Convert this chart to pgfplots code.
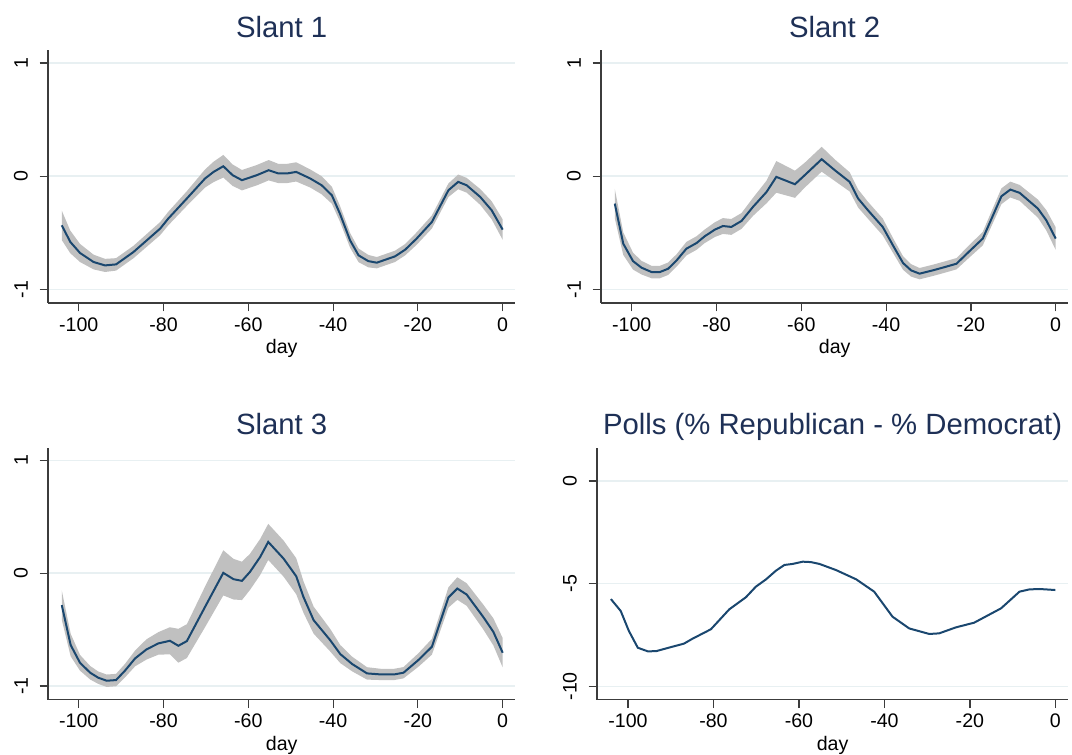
\documentclass[border=0pt]{standalone}
\usepackage{fontspec}
\setmainfont{Liberation Sans}
\usepackage{pgfplots}
\usepackage{pgfplotstable}
\pgfplotsset{compat=1.18}
\usepgfplotslibrary{fillbetween}
\definecolor{stnavy}{RGB}{26,71,111}
\definecolor{bandc}{RGB}{192,192,192}
\definecolor{gridc}{RGB}{232,240,242}
\definecolor{titlec}{RGB}{30,48,86}
\definecolor{axc}{RGB}{60,60,60}

\pgfplotstableread{
d m lo hi
-104 -0.434 -0.564 -0.304
-102 -0.58 -0.68 -0.48
-99.7 -0.678 -0.758 -0.598
-96.5 -0.758 -0.823 -0.693
-93.8 -0.788 -0.846 -0.730
-91.2 -0.779 -0.834 -0.724
-87.1 -0.67 -0.725 -0.615
-80.8 -0.463 -0.521 -0.405
-78.9 -0.375 -0.435 -0.315
-74.5 -0.197 -0.262 -0.132
-70.2 -0.02 -0.10 0.06
-68.2 0.038 -0.052 0.128
-65.9 0.088 -0.012 0.188
-63.7 0.009 -0.086 0.104
-61.5 -0.035 -0.125 0.055
-58 0.009 -0.081 0.099
-55.2 0.053 -0.037 0.143
-52.9 0.024 -0.061 0.109
-50.9 0.024 -0.061 0.109
-48.7 0.038 -0.047 0.123
-45.4 -0.02 -0.10 0.06
-42.7 -0.08 -0.16 0.0
-40.3 -0.168 -0.243 -0.093
-38.4 -0.33 -0.40 -0.26
-36 -0.566 -0.631 -0.501
-34 -0.699 -0.759 -0.639
-31.7 -0.75 -0.805 -0.695
-29.7 -0.764 -0.814 -0.714
-25.4 -0.708 -0.758 -0.658
-23 -0.649 -0.699 -0.599
-20.3 -0.551 -0.606 -0.496
-16.7 -0.404 -0.462 -0.346
-12.8 -0.124 -0.184 -0.064
-10.5 -0.05 -0.115 0.015
-8.5 -0.08 -0.145 -0.015
-5.3 -0.183 -0.253 -0.113
-2.6 -0.301 -0.381 -0.221
0 -0.472 -0.562 -0.382
}\tA

\pgfplotstableread{
d m lo hi
-104 -0.242 -0.372 -0.112
-102 -0.596 -0.696 -0.496
-99.7 -0.75 -0.825 -0.675
-97.7 -0.808 -0.868 -0.748
-95.3 -0.847 -0.902 -0.792
-93.4 -0.847 -0.902 -0.792
-91.4 -0.817 -0.872 -0.762
-89.4 -0.743 -0.798 -0.688
-87.1 -0.64 -0.70 -0.58
-84.7 -0.59 -0.65 -0.53
-82.8 -0.531 -0.591 -0.471
-80.4 -0.472 -0.537 -0.407
-78.5 -0.44 -0.51 -0.37
-76.5 -0.448 -0.518 -0.378
-74.1 -0.395 -0.465 -0.325
-71.4 -0.271 -0.351 -0.191
-68.2 -0.139 -0.239 -0.039
-65.9 -0.006 -0.146 0.134
-61.5 -0.071 -0.191 0.049
-59.2 0.009 -0.101 0.119
-55.2 0.15 0.04 0.26
-52.1 0.053 -0.042 0.148
-48.6 -0.05 -0.135 0.035
-46.6 -0.197 -0.277 -0.117
-44.3 -0.30 -0.375 -0.225
-40.8 -0.448 -0.523 -0.373
-38.4 -0.61 -0.675 -0.545
-36 -0.767 -0.827 -0.707
-34.1 -0.832 -0.887 -0.777
-32.1 -0.861 -0.911 -0.811
-29 -0.832 -0.882 -0.782
-26.2 -0.803 -0.853 -0.753
-23.4 -0.773 -0.823 -0.723
-20.3 -0.661 -0.716 -0.606
-17.2 -0.551 -0.611 -0.491
-12.8 -0.177 -0.247 -0.107
-10.7 -0.118 -0.188 -0.048
-8.5 -0.147 -0.217 -0.077
-6.5 -0.212 -0.287 -0.137
-4.2 -0.286 -0.366 -0.206
-2.2 -0.39 -0.48 -0.30
0 -0.551 -0.651 -0.451
}\tB

\pgfplotstableread{
d m lo hi
-104 -0.283 -0.413 -0.153
-101.9 -0.637 -0.737 -0.537
-99.7 -0.794 -0.864 -0.724
-97.3 -0.882 -0.942 -0.822
-95.4 -0.926 -0.981 -0.871
-93.4 -0.953 -1.008 -0.898
-91.2 -0.947 -1.002 -0.892
-89.1 -0.864 -0.924 -0.804
-86.7 -0.755 -0.825 -0.685
-84 -0.675 -0.765 -0.585
-81.2 -0.622 -0.722 -0.522
-78.5 -0.599 -0.719 -0.479
-76.5 -0.643 -0.793 -0.493
-74.5 -0.602 -0.752 -0.452
-70.2 -0.298 -0.478 -0.118
-65.9 0.003 -0.197 0.203
-63.5 -0.053 -0.233 0.127
-61.5 -0.068 -0.238 0.102
-59.6 0.012 -0.148 0.172
-57.2 0.144 -0.016 0.304
-55.3 0.277 0.117 0.437
-51.7 0.13 -0.03 0.29
-48.7 -0.027 -0.187 0.133
-47 -0.21 -0.35 -0.07
-44.6 -0.416 -0.536 -0.296
-40.7 -0.593 -0.693 -0.493
-38.3 -0.717 -0.797 -0.637
-35.5 -0.805 -0.87 -0.74
-32 -0.888 -0.943 -0.833
-28.8 -0.897 -0.947 -0.847
-25.6 -0.897 -0.947 -0.847
-23.4 -0.882 -0.932 -0.832
-19.9 -0.77 -0.83 -0.71
-16.7 -0.652 -0.722 -0.582
-12.8 -0.215 -0.305 -0.125
-10.7 -0.136 -0.236 -0.036
-8.5 -0.189 -0.289 -0.089
-4.6 -0.387 -0.497 -0.277
-2.2 -0.52 -0.64 -0.40
0 -0.705 -0.835 -0.575
}\tC

\pgfplotstableread{
d m
-104 -5.75
-101.7 -6.33
-99.8 -7.3
-97.7 -8.12
-95.3 -8.30
-93.3 -8.28
-90.5 -8.12
-86.9 -7.92
-84.9 -7.68
-80.6 -7.22
-76.3 -6.25
-72.4 -5.66
-70.1 -5.15
-67.7 -4.79
-65.4 -4.37
-63.4 -4.09
-61.5 -4.04
-59.1 -3.93
-57.2 -3.95
-55.2 -4.04
-51.3 -4.34
-46.6 -4.79
-42.4 -5.39
-38.1 -6.61
-34.2 -7.18
-29.5 -7.45
-27.2 -7.42
-23.3 -7.13
-19 -6.90
-12.7 -6.20
-8.4 -5.39
-6.1 -5.28
-3.7 -5.26
0 -5.31
}\tD

\pgfplotsset{
  stata/.style={
    scale only axis,
    anchor=south west,
    axis x line*=bottom,
    axis y line*=left,
    axis line style={draw=axc, line width=0.6bp, -},
    tick align=outside,
    major tick length=4.25bp,
    tick style={draw=axc, line width=0.6bp},
    xmin=-107.25, xmax=3.0,
    xtick={-100,-80,-60,-40,-20,0},
    xticklabels={-100,-80,-60,-40,-20,0},
    ymajorgrids,
    grid style={draw=gridc, line width=0.75bp},
    ticklabel style={font=\fontsize{9.8bp}{11bp}\selectfont, text=black},
    xticklabel style={yshift=0.6bp},
    yticklabel style={rotate=90, anchor=south, inner ysep=5.6bp},
    xlabel={day},
    xlabel style={font=\fontsize{9.8bp}{11bp}\selectfont, at={(axis description cs:0.5,0)}, anchor=base, yshift=-25.5bp},
    title style={font=\fontsize{14.65bp}{16bp}\selectfont, text=titlec, at={(axis description cs:0.5,1)}, anchor=base, yshift=0.5bp},
  },
  slant/.style={stata, ymin=-1.12, ymax=1.115, ytick={-1,0,1}, yticklabels={-1,0,1}},
}

\begin{document}
\begin{tikzpicture}

\begin{axis}[slant, at={(24bp,226bp)}, width=233.7bp, height=126.5bp, title={Slant 1}]
\addplot[name path=hiA, draw=none] table[x=d, y=hi] {\tA};
\addplot[name path=loA, draw=none] table[x=d, y=lo] {\tA};
\addplot[fill=bandc, draw=none] fill between[of=hiA and loA];
\addplot[stnavy, line width=1bp] table[x=d, y=m] {\tA};
\end{axis}

\begin{axis}[slant, at={(300.5bp,226bp)}, width=233.7bp, height=126.5bp, title={Slant 2}]
\addplot[name path=hiB, draw=none] table[x=d, y=hi] {\tB};
\addplot[name path=loB, draw=none] table[x=d, y=lo] {\tB};
\addplot[fill=bandc, draw=none] fill between[of=hiB and loB];
\addplot[stnavy, line width=1bp] table[x=d, y=m] {\tB};
\end{axis}

\begin{axis}[slant, ymin=-1.121, ymax=1.112, at={(24bp,27.65bp)}, width=233.7bp, height=126bp, title={Slant 3}]
\addplot[name path=hiC, draw=none] table[x=d, y=hi] {\tC};
\addplot[name path=loC, draw=none] table[x=d, y=lo] {\tC};
\addplot[fill=bandc, draw=none] fill between[of=hiC and loC];
\addplot[stnavy, line width=1bp] table[x=d, y=m] {\tC};
\end{axis}

\begin{axis}[stata, ymin=-10.65, ymax=1.62, ytick={-10,-5,0}, yticklabels={-10,-5,0}, at={(298.5bp,27.65bp)}, width=235.6bp, height=126bp, title={Polls (\% Republican - \% Democrat)}]
\addplot[stnavy, line width=1bp] table[x=d, y=m] {\tD};
\end{axis}

\pgfresetboundingbox
\useasboundingbox (0,0) rectangle (536bp,377.5bp);
\end{tikzpicture}
\end{document}
